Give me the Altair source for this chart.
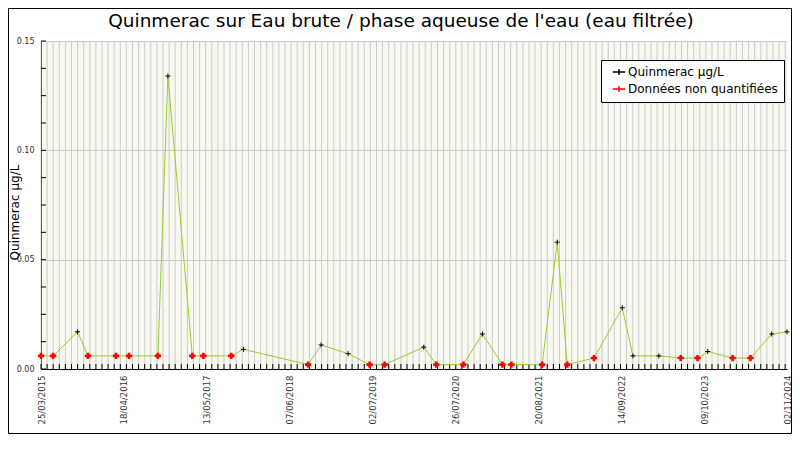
import altair as alt
import pandas as pd

# ---------------- data ----------------
dates = ["2015-03-25", "2015-05-21", "2015-09-13", "2015-11-01", "2016-03-12",
         "2016-05-12", "2016-09-25", "2016-11-11", "2017-03-06", "2017-04-27",
         "2017-09-05", "2017-11-02", "2018-09-02", "2018-11-02", "2019-03-09",
         "2019-06-18", "2019-08-28", "2020-02-28", "2020-04-27", "2020-09-01",
         "2020-11-30", "2021-03-04", "2021-04-15", "2021-09-07", "2021-11-17",
         "2022-01-03", "2022-05-09", "2022-09-19", "2022-11-08", "2023-03-10",
         "2023-06-21", "2023-09-08", "2023-10-26", "2024-02-20", "2024-05-14",
         "2024-08-22", "2024-11-02"]
values = [0.006, 0.006, 0.017, 0.006, 0.006,
          0.006, 0.006, 0.134, 0.006, 0.006,
          0.006, 0.009, 0.002, 0.011, 0.007,
          0.002, 0.002, 0.010, 0.002, 0.002,
          0.016, 0.002, 0.002, 0.002, 0.058,
          0.002, 0.005, 0.028, 0.006, 0.006,
          0.005, 0.005, 0.008, 0.005, 0.005,
          0.016, 0.017]
quantified = [False, False, True, False, False,
              False, False, True, False, False,
              False, True, False, True, True,
              False, False, True, False, False,
              True, False, False, False, True,
              False, False, True, True, True,
              False, False, True, False, False,
              True, True]

tick_dates = ["2015-03-25", "2016-04-18", "2017-05-13", "2018-06-07", "2019-07-02",
              "2020-07-26", "2021-08-20", "2022-09-14", "2023-10-09", "2024-11-02"]
y_tick_values = [0.0, 0.05, 0.10, 0.15]

SERIES_Q = "Quinmerac µg/L"
SERIES_NQ = "Données non quantifiées"
TITLE = "Quinmerac sur Eau brute / phase aqueuse de l'eau (eau filtrée)"
Y_TITLE = "Quinmerac µg/L"

# ---------------- helpers ----------------
def ms(d):
    return int(pd.Timestamp(d, tz="UTC").value // 10**6)

t0, t1 = ms(tick_dates[0]), ms(tick_dates[-1])
DAY = 86400000

df = pd.DataFrame({
    "t": [ms(d) for d in dates],
    "v": values,
    "s": [SERIES_Q if q else SERIES_NQ for q in quantified],
})

# minor vertical grid / tick positions (decoration)
minor_step = 28.7 * DAY
grid_df = pd.DataFrame({"t": [t0 + k * minor_step for k in range(0, 123)]})
ytick_df = pd.DataFrame({"v": [0.0125 * i for i in range(0, 13)]})

W, H = 746, 328
PAD_L, PAD_T, PAD_R, PAD_B = 33, 33, 5, 65
FONT = "DejaVu Sans"

x_enc = alt.X(
    "t:T",
    scale=alt.Scale(type="utc", domain=[t0, t1]),
    axis=alt.Axis(
        values=[ms(d) for d in tick_dates],
        labelExpr="utcFormat(datum.value, '%d/%m/%Y')",
        labelAngle=270, labelFontSize=8.5, labelFont=FONT, labelColor="#333333",
        labelPadding=6, labelFlush=False, labelOverlap=False, labelBound=False,
        ticks=False, grid=False, domainColor="black", title=None,
    ),
)
y_enc = alt.Y(
    "v:Q",
    scale=alt.Scale(domain=[0, 0.15], nice=False, zero=True),
    axis=alt.Axis(
        values=y_tick_values, format=".2f",
        labelFontSize=8, labelFont=FONT, labelColor="#333333", labelPadding=7,
        labelFlush=False, ticks=False, grid=True, gridColor="#cccccc",
        domainColor="black",
        title=Y_TITLE, titleFont=FONT, titleFontSize=12, titleFontWeight="normal",
        titleColor="black", titleX=-20, titleY=171,
    ),
)

color_enc = alt.Color(
    "s:N",
    scale=alt.Scale(domain=[SERIES_Q, SERIES_NQ], range=["black", "red"]),
    legend=alt.Legend(
        title=None, orient="none", legendX=560, legendY=19,
        fillColor="white", strokeColor="black", padding=6,
        labelFont=FONT, labelFontSize=12, labelColor="black",
        symbolType="M-2,0L2,0M0,-0.9L0,0.9", symbolStrokeWidth=1.6, symbolSize=40,
        symbolOffset=6, labelOffset=3, rowPadding=3,
    ),
)

grid = alt.Chart(grid_df).mark_rule(color="#cccccc", strokeWidth=1).encode(x=x_enc)
xticks = alt.Chart(grid_df).mark_rule(color="black", strokeWidth=1).encode(
    x=x_enc, y=alt.value(H), y2=alt.value(H - 5))
yticks = alt.Chart(ytick_df).mark_rule(color="black", strokeWidth=1).encode(
    y=y_enc, x=alt.value(0), x2=alt.value(5))

line = alt.Chart(df).mark_line(color="#9acd32", strokeWidth=1).encode(
    x=x_enc, y=y_enc, order="t:Q")

pts_q = alt.Chart(df).transform_filter(alt.datum.s == SERIES_Q).mark_point(
    shape="M-1,0L1,0M0,-1L0,1", filled=False, size=25, strokeWidth=1, opacity=1
).encode(x=x_enc, y=y_enc, color=color_enc)

pts_nq = alt.Chart(df).transform_filter(alt.datum.s == SERIES_NQ).mark_point(
    shape="M-1,0L1,0M0,-1L0,1", filled=False, size=40, strokeWidth=2.6, opacity=1
).encode(x=x_enc, y=y_enc, color=color_enc)

border = alt.Chart(pd.DataFrame({"a": [0]})).mark_rect(
    fill="transparent", stroke="black", strokeWidth=1
).encode(x=alt.value(-PAD_L + 0.5), x2=alt.value(W + PAD_R - 0.5),
         y=alt.value(-PAD_T + 0.5), y2=alt.value(H + PAD_B - 0.5))

chart = alt.layer(grid, xticks, yticks, line, pts_q, pts_nq, border).properties(
    width=W, height=H,
    padding={"left": PAD_L, "top": PAD_T, "right": PAD_R, "bottom": PAD_B},
    autosize=alt.AutoSizeParams(type="none"),
    background="white",
    title=alt.Title(TITLE, font=FONT, fontSize=18.5, fontWeight="normal", color="black",
                    anchor="middle", dx=-13, offset=10, dy=32),
).configure_view(stroke="transparent", fill="#f8f8f0")

chart.save("out.html", embed_options={"renderer": "svg", "actions": False})
